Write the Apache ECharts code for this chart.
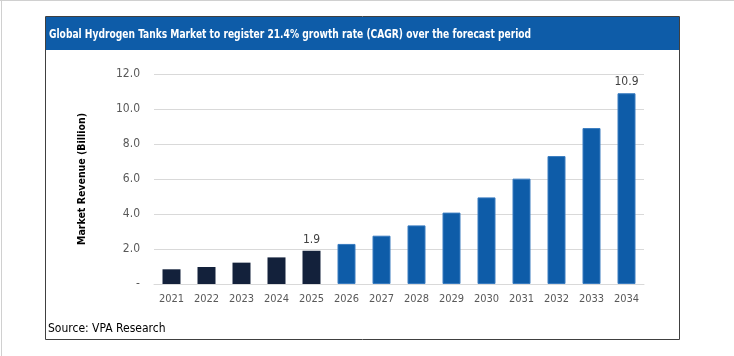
<!DOCTYPE html>
<html>
<head>
<meta charset="utf-8">
<script src="https://cdn.jsdelivr.net/npm/echarts@6/dist/echarts.min.js"></script>
<style>
html,body{margin:0;padding:0;background:#fff;}
#chart{width:734px;height:356px;}
</style>
</head>
<body>
<div id="chart"></div>
<script>
const titleText = 'Global Hydrogen Tanks Market to register 21.4% growth rate (CAGR) over the forecast period';
const sourceText = 'Source: VPA Research';
const yAxisName = 'Market Revenue (Billion)';
const years = ['2021','2022','2023','2024','2025','2026','2027','2028','2029','2030','2031','2032','2033','2034'];
const revenue = [0.84, 0.97, 1.22, 1.52, 1.9, 2.29, 2.76, 3.35, 4.08, 4.95, 6.02, 7.31, 8.91, 10.9];
const historicalYears = ['2021','2022','2023','2024','2025'];
const labelledYears = ['2025','2034'];
const yTicks = [0, 2, 4, 6, 8, 10, 12];

const FONT = "'Liberation Sans Narrow', 'DejaVu Sans Condensed', Lato, sans-serif";
const navy = '#13213b';
const blue = '#0e5ca8';

const chart = echarts.init(document.getElementById('chart'), null, {renderer: 'canvas'});

const data = years.map((y, i) => {
  const hist = historicalYears.includes(y);
  return {
    value: revenue[i],
    itemStyle: {
      color: hist ? navy : blue,
      borderColor: hist ? navy : '#3a7cc0',
      borderWidth: hist ? 0 : 1
    },
    label: {show: labelledYears.includes(y)}
  };
});

chart.setOption({
  animation: false,
  textStyle: {fontFamily: FONT},
  grid: {left: 154, right: 90, top: 74, bottom: 72},
  xAxis: {
    type: 'category',
    data: years,
    axisLine: {lineStyle: {color: '#d9d9d9', width: 1}},
    axisTick: {show: false},
    axisLabel: {color: '#595959', fontSize: 11, margin: 10, interval: 0, fontFamily: FONT}
  },
  yAxis: {
    type: 'value',
    min: yTicks[0],
    max: yTicks[yTicks.length - 1],
    interval: 2,
    name: yAxisName,
    nameLocation: 'middle',
    nameRotate: 90,
    nameGap: 66,
    nameTextStyle: {color: '#000', fontWeight: 'bold', fontSize: 10.5, fontFamily: FONT},
    axisLine: {show: false},
    axisTick: {show: false},
    axisLabel: {
      color: '#595959', fontSize: 12, margin: 14, fontFamily: FONT,
      formatter: v => v === 0 ? '-' : v.toFixed(1)
    },
    splitLine: {lineStyle: {color: '#d9d9d9', width: 1}}
  },
  series: [{
    type: 'bar',
    data: data,
    barWidth: 18,
    label: {
      position: 'top',
      color: '#404040',
      fontSize: 12,
      distance: 5,
      fontFamily: FONT,
      formatter: p => p.value.toFixed(1)
    }
  }],
  graphic: [
    {type: 'line', shape: {x1: 0, y1: 0.5, x2: 734, y2: 0.5}, style: {stroke: '#d0d0d0', lineWidth: 1}, silent: true},
    {type: 'line', shape: {x1: 1.5, y1: 0, x2: 1.5, y2: 356}, style: {stroke: '#d0d0d0', lineWidth: 1}, silent: true},
    {type: 'rect', shape: {x: 45.5, y: 16.5, width: 634, height: 323}, style: {fill: 'none', stroke: '#404040', lineWidth: 1}, silent: true, z: 10},
    {type: 'rect', shape: {x: 46, y: 17, width: 633, height: 33}, style: {fill: blue}, silent: true},
    {type: 'text', x: 49, y: 28, scaleX: 0.78, style: {text: titleText, fill: '#fff', fontSize: 13, fontWeight: 'bold', fontFamily: FONT}, silent: true},
    {type: 'text', left: 48, top: 323, style: {text: sourceText, fill: '#000', fontSize: 12, fontFamily: FONT}, silent: true}
  ]
});
</script>
</body>
</html>
